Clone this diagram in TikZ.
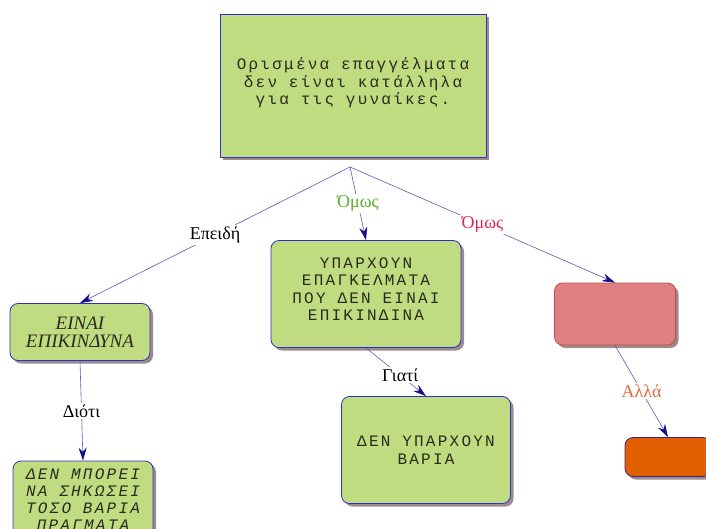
\documentclass[tikz,border=0pt]{standalone}
\usepackage{fontspec}
\setmainfont{Liberation Serif}
\newfontfamily\boxmono[LetterSpace=14]{Liberation Mono}
\usepackage{tikz}
\usetikzlibrary{arrows.meta}
\usetikzlibrary{shadows}
\definecolor{boxgreen}{HTML}{C0DC80}
\definecolor{boxblue}{HTML}{3030C8}
\definecolor{boxred}{HTML}{DF7F80}
\definecolor{boxredline}{HTML}{B85050}
\definecolor{boxorange}{HTML}{E06000}
\definecolor{boxorangeline}{HTML}{402090}
\definecolor{shadowc}{HTML}{9E8A8A}
\definecolor{linkc}{HTML}{5A5AB4}
\definecolor{tipc}{HTML}{10108A}
\definecolor{labgreen}{HTML}{5AAE2E}
\definecolor{labred}{HTML}{E0254F}
\definecolor{laborange}{HTML}{E26A3A}
\definecolor{boxtext}{HTML}{2A2A1E}
\tikzset{
  concept/.style={
    draw=boxblue,fill=boxgreen,rounded corners=8pt,align=center,line width=0.8pt,text=boxtext,
    drop shadow={shadow xshift=3pt,shadow yshift=-3pt,fill=shadowc,opacity=1},
  },
  monotext/.style={font=\boxmono\fontsize{16}{17.5}\selectfont},
  link/.style={draw=linkc,line width=0.6pt,-{Stealth[length=13pt,width=8pt,color=tipc]}},
  linklabel/.style={fill=white,inner sep=1.5pt,font=\fontsize{18}{19}\selectfont},
}

\begin{document}
\begin{tikzpicture}[x=1pt,y=-1pt]
      \path[use as bounding box] (0,0) rectangle (706,529);
      \clip (0,0) rectangle (706,529);

      \node[concept,sharp corners,monotext,minimum width=266pt,minimum height=143pt] (jobs) at (353,86)
        {Ορισμένα επαγγέλματα\\δεν είναι κατάλληλα\\για τις γυναίκες.\\[-8pt]};
      \node[concept,minimum width=140pt,minimum height=57pt,font=\itshape\fontsize{19}{18.5}\selectfont] (danger) at (80,332)
        {ΕΙΝΑΙ\\ΕΠΙΚΙΝΔΥΝΑ};
      \node[concept,font=\boxmono\itshape\fontsize{16}{17}\selectfont,minimum width=140pt,minimum height=78pt] (heavy) at (83,500)
        {ΔΕΝ ΜΠΟΡΕΙ\\ΝΑ ΣΗΚΩΣΕΙ\\ΤΟΣΟ ΒΑΡΙΑ\\ΠΡΑΓΜΑΤΑ};
      \node[concept,monotext,minimum width=190pt,minimum height=107pt] (safe) at (366,294)
        {ΥΠΑΡΧΟΥΝ\\ΕΠΑΓΚΕΛΜΑΤΑ\\ΠΟΥ ΔΕΝ ΕΙΝΑΙ\\ΕΠΙΚΙΝΔΙΝΑ\\[-8pt]};
      \node[concept,monotext,minimum width=169pt,minimum height=107pt] (noheavy) at (426,450)
        {ΔΕΝ ΥΠΑΡΧΟΥΝ\\ΒΑΡΙΑ};
      \node[concept,draw=boxredline,fill=boxred,minimum width=121pt,minimum height=62pt] (redbox) at (615,314) {};
      \node[concept,draw=boxorangeline,fill=boxorange,minimum width=86pt,minimum height=39pt] (orangebox) at (668,457) {};

      \coordinate (split) at (350,167);
      \path (split) edge[link] node[linklabel] {Επειδή} (danger.north);
      \path (split) edge[link] node[linklabel,text=labgreen] {Όμως} (safe.north);
      \path (split) edge[link] node[linklabel,text=labred] {Όμως} (redbox.north);
      \path (danger.south) edge[link] node[linklabel] {Διότι} (heavy.north);
      \path (safe.south) edge[link] node[linklabel,pos=0.57] {Γιατί} (noheavy.north);
      \path (redbox.south) edge[link] node[linklabel,text=laborange] {Αλλά} (orangebox.north);
\end{tikzpicture}
\end{document}
